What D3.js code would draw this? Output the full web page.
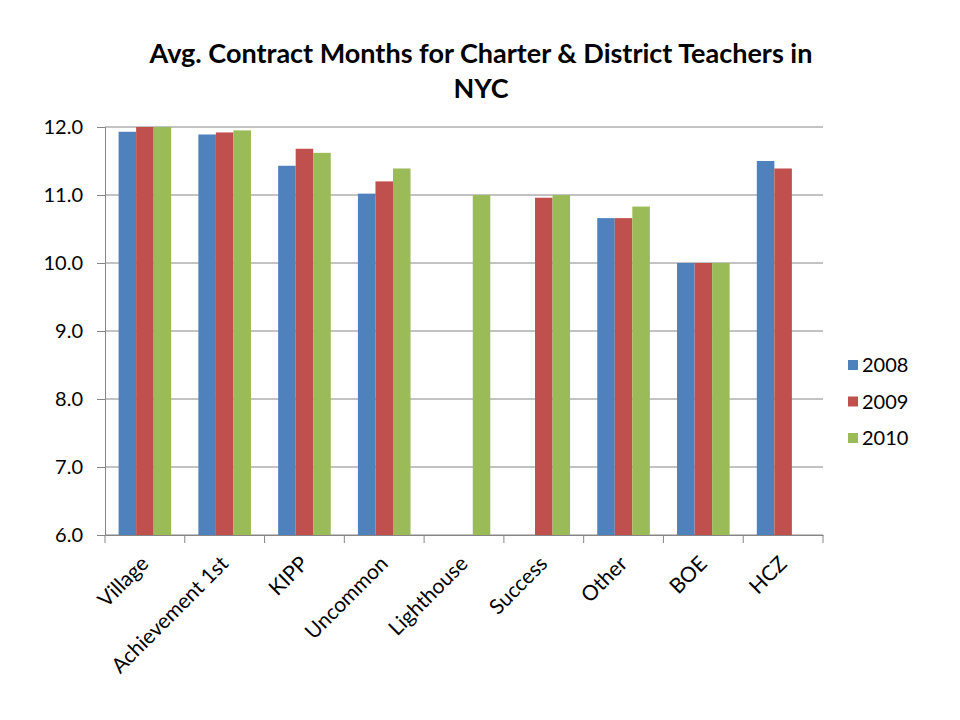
<!DOCTYPE html>
<html>
<head>
<meta charset="utf-8">
<script src="https://cdn.jsdelivr.net/npm/d3@7"></script>
<style>
  body { margin: 0; background: #fff; }
  text { font-family: Lato, "Open Sans", sans-serif; fill: #000; }
  .axis path, .axis line { stroke: #868686; }
</style>
</head>
<body>
<div id="chart"></div>
<script>
// --- Data ---
const categories = ['Village', 'Achievement 1st', 'KIPP', 'Uncommon', 'Lighthouse', 'Success', 'Other', 'BOE', 'HCZ'];
const years = ['2008', '2009', '2010'];
const values2008 = [11.93, 11.89, 11.43, 11.02, null, null, 10.66, 10.0, 11.50];
const values2009 = [12.0, 11.92, 11.68, 11.20, null, 10.96, 10.66, 10.0, 11.39];
const values2010 = [12.0, 11.95, 11.62, 11.39, 11.0, 11.0, 10.83, 10.0, null];
const yTicks = [6, 7, 8, 9, 10, 11, 12];
const colors = ['#4f81bd', '#c0504d', '#9bbb59'];

const series = [values2008, values2009, values2010];

const W = 960, H = 720;
const margin = { top: 127, right: 137, bottom: 185, left: 105 };
const width = W - margin.left - margin.right;
const height = H - margin.top - margin.bottom;

const root = d3.select('#chart').append('svg')
    .attr('width', W)
    .attr('height', H);

const svg = root.append('g')
    .attr('transform', `translate(${margin.left},${margin.top})`);

// --- Scales ---
const x0 = d3.scaleBand().domain(categories).range([0, width]);
const barW = x0.bandwidth() / 4.55;   // ~150% gap width like Excel
const x1 = d3.scaleBand().domain(years).range([0, barW * 3]);
const y = d3.scaleLinear().domain([6, 12]).range([height, 0]);

// --- Gridlines ---
svg.append('g')
    .selectAll('line')
    .data(yTicks)
    .enter().append('line')
    .attr('x1', 0).attr('x2', width)
    .attr('y1', d => y(d)).attr('y2', d => y(d))
    .attr('stroke', '#868686')
    .attr('stroke-width', 1);

// --- Bars ---
const offset = (x0.bandwidth() - barW * 3) / 2;
series.forEach((vals, si) => {
    svg.append('g')
        .selectAll('rect')
        .data(vals.map((v, i) => ({ cat: categories[i], v })).filter(d => d.v !== null))
        .enter().append('rect')
        .attr('x', d => x0(d.cat) + offset + x1(years[si]))
        .attr('y', d => y(d.v))
        .attr('width', x1.bandwidth())
        .attr('height', d => height - y(d.v))
        .attr('fill', colors[si]);
});

// --- Axes ---
const yAxis = svg.append('g')
    .attr('class', 'axis')
    .call(d3.axisLeft(y).tickValues(yTicks).tickFormat(d3.format('.1f')).tickSize(8).tickPadding(14));
yAxis.selectAll('text').attr('font-size', 20);

const xAxis = svg.append('g')
    .attr('class', 'axis')
    .attr('transform', `translate(0,${height})`)
    .call(d3.axisBottom(x0).tickSize(0).tickFormat(''));

// tick marks on category boundaries
xAxis.selectAll('.bound')
    .data(d3.range(categories.length + 1))
    .enter().append('line')
    .attr('x1', i => i * x0.step()).attr('x2', i => i * x0.step())
    .attr('y1', 0).attr('y2', 8)
    .attr('stroke', '#868686');

xAxis.selectAll('.cat-label')
    .data(categories)
    .enter().append('text')
    .attr('class', 'cat-label')
    .attr('text-anchor', 'end')
    .attr('font-size', 21)
    .attr('transform', d => `translate(${x0(d) + x0.bandwidth() / 2 + 5},${30}) rotate(-45)`)
    .text(d => d);

// --- Title ---
root.append('text')
    .attr('x', 481).attr('y', 63)
    .attr('text-anchor', 'middle')
    .attr('font-size', 27)
    .attr('font-weight', 'bold')
    .text('Avg. Contract Months for Charter & District Teachers in');
root.append('text')
    .attr('x', 481).attr('y', 98)
    .attr('text-anchor', 'middle')
    .attr('font-size', 27)
    .attr('font-weight', 'bold')
    .text('NYC');

// --- Legend ---
const legend = root.append('g').attr('transform', 'translate(848,365)');
years.forEach((yr, i) => {
    const g = legend.append('g').attr('transform', `translate(0,${i * 36.5})`);
    g.append('rect').attr('x', 0).attr('y', -5).attr('width', 10).attr('height', 10).attr('fill', colors[i]);
    g.append('text').attr('x', 14).attr('y', 7).attr('font-size', 20).text(yr);
});
</script>
</body>
</html>
